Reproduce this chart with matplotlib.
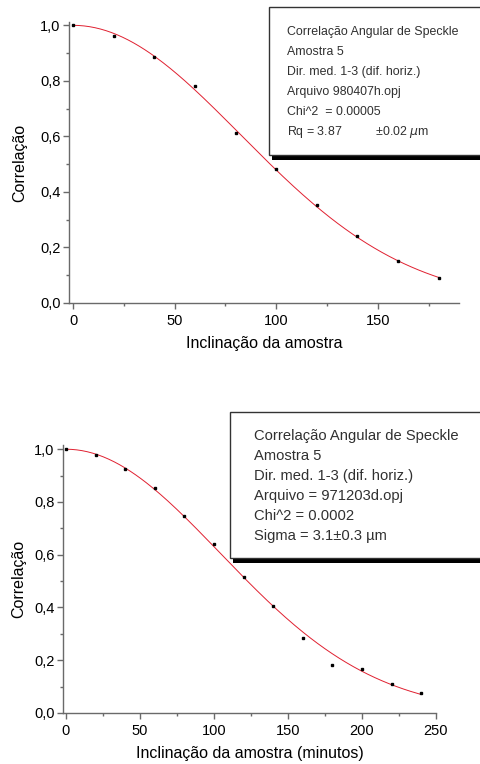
import numpy as np
import matplotlib.pyplot as plt
from matplotlib.patches import Rectangle
from matplotlib.ticker import MultipleLocator, FuncFormatter

plt.rcParams['font.family'] = ['Liberation Sans', 'DejaVu Sans']

# dados
x1 = [0, 20, 40, 60, 80, 100, 120, 140, 160, 180]
y1 = [1.0, 0.962, 0.886, 0.783, 0.614, 0.482, 0.352, 0.240, 0.153, 0.090]
x2 = [0, 20, 40, 60, 80, 100, 120, 140, 160, 180, 200, 220, 240]
y2 = [1.0, 0.978, 0.924, 0.853, 0.747, 0.641, 0.516, 0.404, 0.284, 0.183, 0.167, 0.111, 0.076]

txt1 = ['Correlação Angular de Speckle', 'Amostra 5', 'Dir. med. 1-3 (dif. horiz.)',
        'Arquivo 980407h.opj', 'Chi^2  = 0.00005', r'Rq = 3.87          ±0.02 $\mu$m']
txt2 = ['Correlação Angular de Speckle', 'Amostra 5', 'Dir. med. 1-3 (dif. horiz.)',
        'Arquivo = 971203d.opj', 'Chi^2 = 0.0002', 'Sigma = 3.1±0.3 µm']

W, H = 480, 764
fig = plt.figure(figsize=(W/100, H/100), dpi=100)

def box(l, t, r, b):
    # pixel coords (top-left origin) -> figure fraction
    return [l/W, 1-b/H, (r-l)/W, (b-t)/H]

def gauss_fit(x, y):
    x = np.array(x, float); y = np.array(y, float)
    k = -np.sum(x**2*np.log(y))/np.sum(x**4)
    return lambda t: np.exp(-k*t**2)

comma = FuncFormatter(lambda v, p: ('%.1f' % v).replace('.', ','))
grey = '#6a6a6a'

def setup(ax, xlabel, ylpad):
    for s in ['top', 'right']:
        ax.spines[s].set_visible(False)
    for s in ['left', 'bottom']:
        ax.spines[s].set_color(grey)
        ax.spines[s].set_linewidth(1.0)
    ax.xaxis.set_major_locator(MultipleLocator(50))
    ax.xaxis.set_minor_locator(MultipleLocator(25))
    ax.yaxis.set_major_locator(MultipleLocator(0.2))
    ax.yaxis.set_minor_locator(MultipleLocator(0.1))
    ax.yaxis.set_major_formatter(comma)
    ax.tick_params(which='major', length=4, width=1, color=grey, labelsize=10.5, pad=2)
    ax.tick_params(which='minor', length=2.5, width=1, color=grey)
    ax.tick_params(axis='x', pad=4)
    ax.set_ylabel('Correlação', fontsize=11.5, labelpad=ylpad)
    ax.set_xlabel(xlabel, fontsize=11.5, labelpad=6)

# grafico de cima
ax1 = fig.add_axes(box(69, 22, 459, 303))
f1 = gauss_fit(x1, y1)
xp = np.linspace(0, max(x1), 200)
ax1.plot(xp, f1(xp), color='#e02030', lw=0.7)
ax1.plot(x1, y1, 's', color='black', ms=2)
ax1.set_xlim(-2, 190)
ax1.set_ylim(0, 1.012)
setup(ax1, 'Inclinação da amostra', 9)

# grafico de baixo
ax2 = fig.add_axes(box(63, 445, 436, 713))
f2 = gauss_fit(x2, y2)
xp = np.linspace(0, max(x2), 200)
ax2.plot(xp, f2(xp), color='#e02030', lw=0.7)
ax2.plot(x2, y2, 's', color='black', ms=2)
ax2.set_xlim(-2, 250)
ax2.set_ylim(0, 1.016)
setup(ax2, 'Inclinação da amostra (minutos)', 6)

# caixas de texto com sombra
def textbox(l, t, b, lines, x0, y0, dy, fs):
    sh = Rectangle(((l+3)/W, 1-(b+5)/H), (W-l)/W, 5/H, transform=fig.transFigure,
                   facecolor='black', edgecolor='none', zorder=5)
    rc = Rectangle((l/W, 1-b/H), (W-l+5)/W, (b-t)/H, transform=fig.transFigure,
                   facecolor='white', edgecolor='#333333', lw=1.0, zorder=6)
    fig.patches.extend([sh, rc])
    for i, s in enumerate(lines):
        fig.text(x0/W, 1-(y0+i*dy)/H, s, fontsize=fs, color='#303030',
                 va='center', ha='left', zorder=7)

textbox(269, 7, 155, txt1, 287, 32, 20, 8.9)
textbox(230, 412, 558, txt2, 254, 436, 20, 10.6)

fig.savefig('out.png', dpi=100)
